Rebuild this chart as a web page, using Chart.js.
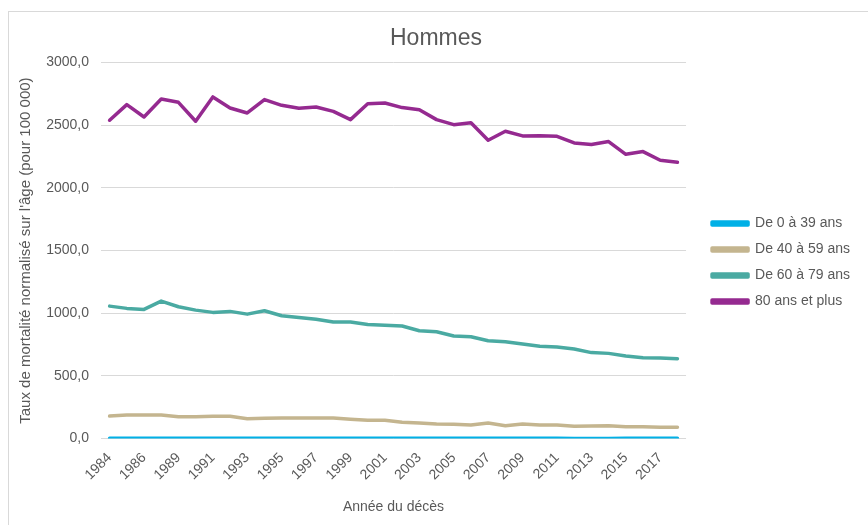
<!DOCTYPE html>
<html>
<head>
<meta charset="utf-8">
<script src="https://cdn.jsdelivr.net/npm/chart.js@4.4.1/dist/chart.umd.min.js"></script>
<style>
  body { margin: 0; background: #fff; overflow: hidden; }
  #wrap { position: relative; width: 868px; height: 525px; }
  #frame { position: absolute; left: 8px; top: 11px; width: 900px; height: 600px;
           border-left: 1px solid #d9d9d9; border-top: 1px solid #d9d9d9; }
  #chart { position: absolute; left: 0; top: 0; }
</style>
</head>
<body>
<div id="wrap">
  <div id="frame"></div>
  <canvas id="chart" width="868" height="525"></canvas>
</div>
<script>
// years (one year missing between 1986 and 1989 in the source)
const years = [1984, 1985, 1986, 1987, 1989, 1990, 1991, 1992, 1993, 1994, 1995, 1996,
  1997, 1998, 1999, 2000, 2001, 2002, 2003, 2004, 2005, 2006, 2007, 2008, 2009, 2010,
  2011, 2012, 2013, 2014, 2015, 2016, 2017, 2018];

const age0to39 = [3, 3, 3, 3, 3, 3, 3, 3, 3, 3, 3, 3, 3, 3, 3, 3, 3, 3, 3, 3, 3, 3,
  3, 3, 3, 3, 2, 0, 0, 1, 2, 2, 2, 2];
const age40to59 = [180, 188, 188, 188, 175, 175, 178, 178, 159, 162, 164, 164, 164, 164,
  154, 146, 146, 131, 124, 117, 114, 108, 124, 103, 117, 108, 108, 98, 101, 103, 95, 95,
  90, 90];
const age60to79 = [1057, 1039, 1031, 1097, 1052, 1025, 1007, 1015, 993, 1020, 980, 967,
  953, 930, 930, 911, 905, 898, 861, 853, 819, 813, 781, 773, 755, 736, 731, 715, 686,
  680, 659, 646, 643, 638];
const age80plus = [2540, 2665, 2566, 2710, 2683, 2532, 2726, 2638, 2598, 2705, 2659, 2635,
  2646, 2611, 2545, 2672, 2678, 2641, 2624, 2545, 2505, 2520, 2380, 2452, 2415, 2417,
  2412, 2359, 2346, 2370, 2268, 2290, 2221, 2205];

const yTicks = [0, 500, 1000, 1500, 2000, 2500, 3000];

const grey = '#595959';
const fontFamily = '"Liberation Sans", Arial, sans-serif';

function serie(label, data, color) {
  return {
    label: label,
    data: data,
    borderColor: color,
    backgroundColor: color,
    borderWidth: 3.5,
    pointRadius: 0,
    tension: 0,
    borderJoinStyle: 'round',
    borderCapStyle: 'round'
  };
}

new Chart(document.getElementById('chart'), {
  type: 'line',
  data: {
    labels: years,
    datasets: [
      serie('De 0 à 39 ans', age0to39, '#00b0e6'),
      serie('De 40 à 59 ans', age40to59, '#c4b58f'),
      serie('De 60 à 79 ans', age60to79, '#4aaaa2'),
      serie('80 ans et plus', age80plus, '#952a90')
    ]
  },
  options: {
    responsive: false,
    animation: false,
    layout: { padding: { left: 12, right: 8, top: 0, bottom: 0 } },
    plugins: {
      title: {
        display: true,
        text: 'Hommes',
        color: grey,
        font: { family: fontFamily, size: 23, weight: 'normal' },
        padding: { top: 25, bottom: 10 }
      },
      legend: {
        position: 'right',
        maxWidth: 260,
        labels: {
          color: grey,
          font: { family: fontFamily, size: 14 },
          boxWidth: 36,
          boxHeight: 3,
          padding: 12
        }
      },
      tooltip: { enabled: false }
    },
    scales: {
      x: {
        offset: true,
        grid: { display: false },
        border: { display: false },
        ticks: {
          color: grey,
          font: { family: fontFamily, size: 14 },
          autoSkip: false,
          minRotation: 45,
          maxRotation: 45,
          padding: 3,
          callback: function (value, index) {
            return index % 2 === 0 ? years[index] : '';
          }
        },
        title: {
          display: true,
          text: 'Année du décès',
          color: grey,
          font: { family: fontFamily, size: 14 },
          padding: { top: 4, bottom: 9 }
        },
        afterFit: function (scale) { scale.height = 86.4; }
      },
      y: {
        min: 0,
        max: 3000,
        afterBuildTicks: function (scale) {
          scale.ticks = yTicks.map(function (v) { return { value: v }; });
        },
        grid: { color: '#d9d9d9', lineWidth: 1, drawTicks: false },
        border: { display: false },
        ticks: {
          color: grey,
          font: { family: fontFamily, size: 14 },
          padding: 12,
          callback: function (value) { return value.toFixed(1).replace('.', ','); }
        },
        title: {
          display: true,
          text: "Taux de mortalité normalisé sur l'âge (pour 100 000)",
          color: grey,
          font: { family: fontFamily, size: 15 },
          padding: { top: 5, bottom: 0 }
        },
        afterFit: function (scale) { scale.width = 89; }
      },
      y2: {
        axis: 'y',
        position: 'right',
        grid: { display: false },
        border: { display: false },
        ticks: { display: false },
        afterFit: function (scale) { scale.width = 14; }
      }
    }
  }
});
</script>
</body>
</html>
